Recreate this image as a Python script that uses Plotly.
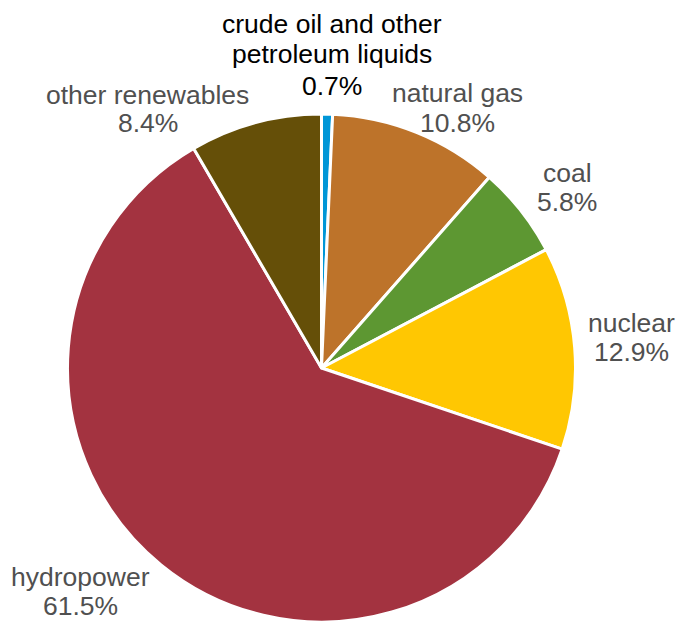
import plotly.graph_objects as go

# Share of generation by source (percent)
sources = ["crude oil and other petroleum liquids", "natural gas", "coal",
           "nuclear", "hydropower", "other renewables"]
label_lines = [["crude oil and other", "petroleum liquids"], ["natural gas"], ["coal"],
               ["nuclear"], ["hydropower"], ["other renewables"]]
shares = [0.7, 10.8, 5.8, 12.9, 61.5, 8.4]
colors = ["#0096D7", "#BD732A", "#5D9732", "#FFC702", "#A33340", "#654F08"]
label_colors = ["#000000", "#505050", "#505050", "#505050", "#505050", "#505050"]

W, H = 677, 622
# Pie placement (pixels): centre x and half-size of the square domain box,
# which sits on the bottom edge of the figure
cx, half = 321.5, 254

# Label anchor points (pixel centre of each text line, top-left origin)
label_pos = [
    (332, [23.5, 54.5, 86]),
    (457, [92.5, 123.5]),
    (567, [172.5, 202]),
    (631.5, [323, 352]),
    (80, [577, 606]),
    (147.5, [95, 123.5]),
]

fig = go.Figure(go.Pie(
    labels=sources,
    values=shares,
    sort=False,
    direction="clockwise",
    rotation=0,
    marker=dict(colors=colors, line=dict(color="white", width=3)),
    textinfo="none",
    hoverinfo="label+percent",
    showlegend=False,
    domain=dict(x=[(cx - half) / W, (cx + half) / W], y=[0, 2 * half / H]),
))

annotations = []
for lines, val, col, (x, ys) in zip(label_lines, shares, label_colors, label_pos):
    texts = lines + [f"{val:.1f}%"]
    for t, y in zip(texts, ys):
        annotations.append(dict(
            text=t, x=x / W, y=1 - y / H, xref="paper", yref="paper",
            xanchor="center", yanchor="middle", showarrow=False,
            font=dict(family="Liberation Sans, Arial, sans-serif", size=26.5, color=col),
        ))

fig.update_layout(
    width=W, height=H,
    margin=dict(l=0, r=0, t=0, b=0),
    paper_bgcolor="white", plot_bgcolor="white",
    annotations=annotations,
)

fig.write_html("out.html")
